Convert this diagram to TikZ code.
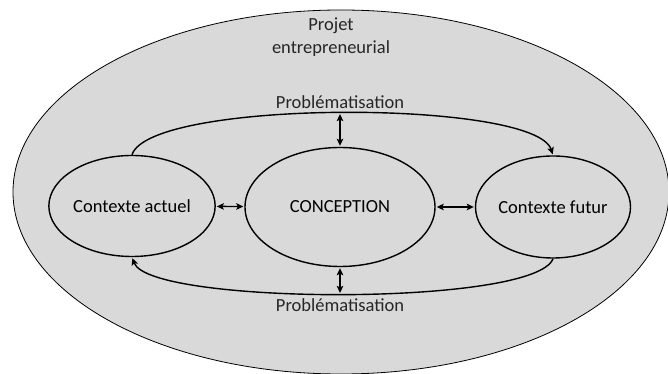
\documentclass[tikz,border=0pt]{standalone}
\usepackage{fontspec}
\setmainfont{Carlito}
\usetikzlibrary{
        arrows,
        arrows.meta,
        positioning,
        shapes.geometric
    }
\definecolor{fondgris}{HTML}{D9D9D9}
\tikzset{>={Stealth[length=7pt,width=6.5pt,inset=1.5pt]},shorten >=1pt,auto}

\begin{document}
\begin{tikzpicture}[x=1pt,y=1pt,line width=1.4pt,font=\fontsize{18.5}{23}\selectfont]
                \tikzset{zone/.style={ellipse,draw,fill=fondgris,inner sep=0pt}}
                \useasboundingbox (0,0) rectangle (668,374);

                    \node[zone,line width=0.8pt,minimum width=656pt,minimum height=364pt] (projet) at (341,182) {};
                    \node[align=center,text=black!85] (titre) at (331,337) {Projet\\entrepreneurial};

                    \node[zone,minimum width=156pt,minimum height=101pt] (actuel) at (132,168) {Contexte actuel};
                    \node[zone,minimum width=190pt,minimum height=119pt] (conception) at (340,167) {CONCEPTION};
                    \node[zone,minimum width=155pt,minimum height=102pt] (futur) at (553,167) {Contexte futur};

                \draw[->] (actuel.north) .. controls +(18,56) and +(-18,56) .. (futur.north)
                        coordinate[pos=0.5] (haut);
                \draw[->] (futur.south) .. controls +(-18,-48) and +(18,-48) .. (actuel.south)
                        coordinate[pos=0.5] (bas);

                \path[<->,shorten <=1pt]
                        (actuel) edge (conception)
                        (conception) edge (futur)
                        (conception.north |- haut) edge (conception.north)
                        (conception.south |- bas) edge (conception.south)
                        ;

                    \node[text=black!85] (probhaut) at (340,272) {Problématisation};
                    \node[text=black!85] (probbas) at (340,69) {Problématisation};
            \end{tikzpicture}
\end{document}
